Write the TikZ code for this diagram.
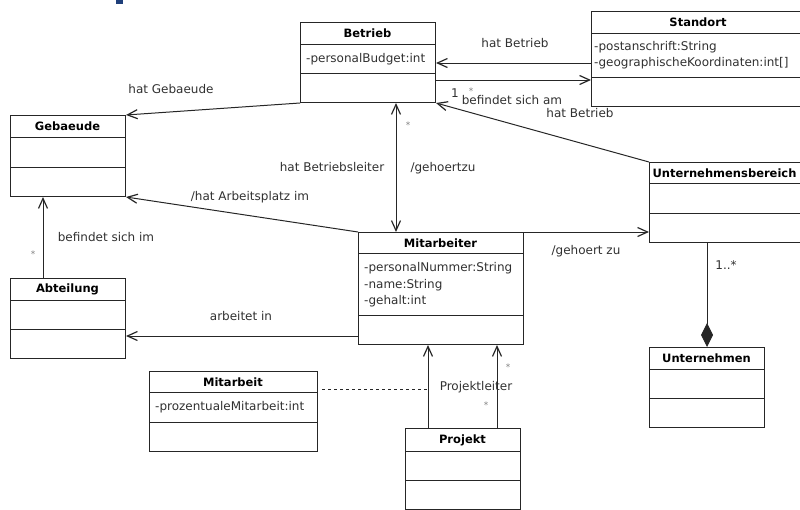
\documentclass[tikz,border=0pt]{standalone}
\usepackage{fontspec}
\setmainfont{DejaVu Sans}
\usetikzlibrary{arrows.meta}
\definecolor{ln}{HTML}{262626}
\definecolor{tx}{HTML}{303030}
\definecolor{hdr}{HTML}{1F3F7A}
\begin{document}
\begin{tikzpicture}[x=1pt,y=-1pt,
  every node/.style={font=\fontsize{12}{14}\selectfont, text=tx, inner sep=0pt},
  cls/.style={draw=ln, line width=1pt, anchor=north west, inner sep=0pt},
  sep/.style={draw=ln, line width=1pt},
  ttl/.style={font=\fontsize{11.5}{13}\selectfont\bfseries, text=black},
  attr/.style={anchor=west},
  lbl/.style={},
  mult/.style={font=\fontsize{9}{10}\selectfont, text=gray},
  barb/.tip={Straight Barb[length=10pt,width=9pt,line width=1.2pt]},
  assoc/.style={draw=ln, line width=1pt, -barb},
  biassoc/.style={draw=ln, line width=1pt, barb-barb},
  comp/.style={draw=ln, line width=1pt, -{Diamond[length=24pt,width=12pt]}},
  dsh/.style={draw=ln, line width=1pt, dashed}
]
\useasboundingbox (0,0) rectangle (800,509);
\fill[hdr] (116,0) rectangle (123,4);

% Betrieb
\node[cls, minimum width=135pt, minimum height=80pt] (betrieb) at (300,22) {};
\draw[sep] (300,44) -- (435,44);
\draw[sep] (300,73) -- (435,73);
\node[ttl] (betriebT) at (367.5,33) {Betrieb};
\node[attr] (betriebA) at (306,59) {-personalBudget:int};

% Standort
\node[cls, minimum width=210pt, minimum height=95pt] (standort) at (591,11) {};
\draw[sep] (591,33) -- (801,33);
\draw[sep] (591,77) -- (801,77);
\node[ttl] (standortT) at (698,22) {Standort};
\node[attr] (standortA1) at (594,47) {-postanschrift:String};
\node[attr] (standortA2) at (594,63.5) {-geographischeKoordinaten:int[]};

% Gebaeude
\node[cls, minimum width=115pt, minimum height=81pt] (geb) at (10,115) {};
\draw[sep] (10,137) -- (125,137);
\draw[sep] (10,167) -- (125,167);
\node[ttl] (gebT) at (67.5,126) {Gebaeude};

% Abteilung
\node[cls, minimum width=115pt, minimum height=80pt] (abt) at (10,278) {};
\draw[sep] (10,300) -- (125,300);
\draw[sep] (10,329) -- (125,329);
\node[ttl] (abtT) at (67.5,289) {Abteilung};

% Mitarbeiter
\node[cls, minimum width=165pt, minimum height=112pt] (mit) at (358,232) {};
\draw[sep] (358,253) -- (523,253);
\draw[sep] (358,315) -- (523,315);
\node[ttl] (mitT) at (440.5,243) {Mitarbeiter};
\node[attr] (mitA1) at (364,268.5) {-personalNummer:String};
\node[attr] (mitA2) at (364,285) {-name:String};
\node[attr] (mitA3) at (364,301) {-gehalt:int};

% Unternehmensbereich
\node[cls, minimum width=152pt, minimum height=80pt] (ub) at (649,162) {};
\draw[sep] (649,183) -- (801,183);
\draw[sep] (649,213) -- (801,213);
\node[ttl] (ubT) at (724.5,173) {Unternehmensbereich};

% Unternehmen
\node[cls, minimum width=115pt, minimum height=80pt] (un) at (649,347) {};
\draw[sep] (649,369) -- (764,369);
\draw[sep] (649,398) -- (764,398);
\node[ttl] (unT) at (706.5,358) {Unternehmen};

% Mitarbeit
\node[cls, minimum width=168pt, minimum height=80pt] (mitarb) at (149,371) {};
\draw[sep] (149,392) -- (317,392);
\draw[sep] (149,422) -- (317,422);
\node[ttl] (mitarbT) at (233,382) {Mitarbeit};
\node[attr] (mitarbA) at (155,407) {-prozentualeMitarbeit:int};

% Projekt
\node[cls, minimum width=115pt, minimum height=81pt] (proj) at (405,428) {};
\draw[sep] (405,451) -- (520,451);
\draw[sep] (405,480) -- (520,480);
\node[ttl] (projT) at (462.5,440) {Projekt};

% Connectors
\draw[assoc] (betrieb.south west) -- (geb.north east);
\node[lbl] (l1) at (171,89) {hat Gebaeude};

\draw[assoc] (standort.west |- 0,63) -- (betrieb.east |- 0,63);
\node[lbl] (l2) at (515,43) {hat Betrieb};
\draw[assoc] (betrieb.east |- 0,80) -- (standort.west |- 0,80);

\draw[assoc] (ub.north west) -- (betrieb.south east);
\node[lbl] (l3a) at (455,93) {1};
\node[mult] (l3b) at (471,91) {*};
\node[lbl] (l3c) at (512,100) {befindet sich am};
\node[lbl] (l3d) at (580,113) {hat Betrieb};

\draw[biassoc] (396,0 |- betrieb.south) -- (396,0 |- mit.north);
\node[mult] (l4a) at (408,125) {*};
\node[lbl] (l4b) at (332,167) {hat Betriebsleiter};
\node[lbl] (l4c) at (443,168) {/gehoertzu};

\draw[assoc] (mit.north west) -- (geb.south east);
\node[lbl] (l5) at (250,197) {/hat Arbeitsplatz im};

\draw[assoc] (mit.north east) -- (ub.west |- mit.north east);
\node[lbl] (l6) at (586,251) {/gehoert zu};

\draw[assoc] (43,0 |- abt.north) -- (43,0 |- geb.south);
\node[lbl] (l7) at (106,237) {befindet sich im};
\node[mult] (l7b) at (33,254) {*};

\draw[assoc] (mit.west |- 0,336) -- (abt.east |- 0,336);
\node[lbl] (l8) at (241,316) {arbeitet in};

\draw[assoc] (428,0 |- proj.north) -- (428,0 |- mit.south);
\draw[assoc] (497,0 |- proj.north) -- (497,0 |- mit.south);
\node[mult] (l9a) at (508,367) {*};
\node[lbl] (l9b) at (476,387) {Projektleiter};
\node[mult] (l9c) at (486,405) {*};

\coordinate (dashL) at (322,389);
\coordinate (dashR) at (428,389);
\draw[dsh] (dashL) -- (dashR);

\draw[comp] (707,0 |- ub.south) -- (707,0 |- un.north);
\node[lbl] (l10) at (726,265) {1..*};
\end{tikzpicture}
\end{document}
